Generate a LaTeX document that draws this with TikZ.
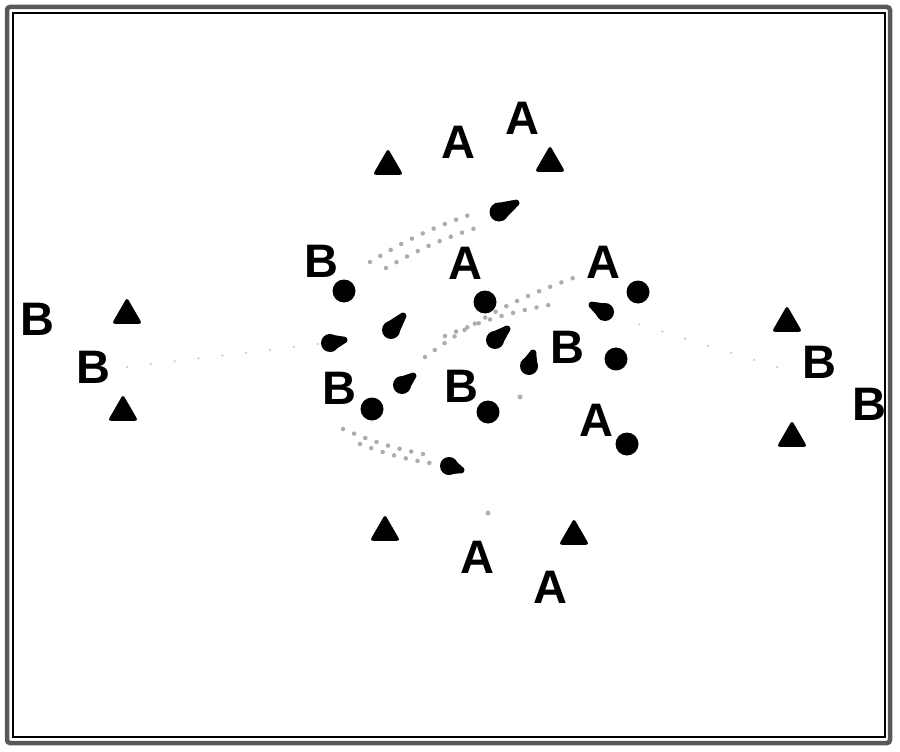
\documentclass[tikz,border=0pt]{standalone}
\usepackage{fontspec}
\setmainfont{Liberation Sans}
\usetikzlibrary{calc,shapes.geometric}
\newcommand\tdrop[3][9pt]{%
  \fill ($(#2)!#1!90:(#3)$) -- ($(#3)!3.5pt!-90:(#2)$) -- ($(#3)!3.5pt!90:(#2)$) -- ($(#2)!#1!-90:(#3)$) -- cycle;
  \fill (#2) circle (#1);
  \fill (#3) circle (3.5pt);}
\begin{document}
\begin{tikzpicture}[x=1pt,y=-1pt,
  lett/.style={font=\fontsize{47}{47}\selectfont\bfseries,inner sep=0pt},
  tri/.style={regular polygon,regular polygon sides=3,fill=black,minimum size=35pt,inner sep=0pt,rounded corners=3pt},
  dotc/.style={circle,fill=black,minimum size=23pt,inner sep=0pt},
  track/.style={gray!65,line width=4.5pt,line cap=round,dash pattern=on 0pt off 12pt},
  ftrack/.style={gray!40,line width=2.5pt,line cap=round,dash pattern=on 0pt off 24pt}]
\useasboundingbox (0,0) rectangle (900,752);
\fill[white] (0,0) rectangle (900,752);
% frame
\draw[gray!70!black,line width=4.5pt,rounded corners=3pt] (7,7) rectangle (890,743);
\draw[black,line width=1.3pt] (13,13) rectangle (885,737);
% letters A
\node[lett] (a1) at (458,142) {A};
\node[lett] (a2) at (522,118) {A};
\node[lett] (a3) at (465,263) {A};
\node[lett] (a4) at (603,262) {A};
\node[lett] (a5) at (596,420) {A};
\node[lett] (a6) at (477,557) {A};
\node[lett] (a7) at (550,587) {A};
% letters B
\node[lett] (b1) at (37,319) {B};
\node[lett] (b2) at (93,367) {B};
\node[lett] (b3) at (321,261) {B};
\node[lett] (b4) at (339,388) {B};
\node[lett] (b5) at (461,386) {B};
\node[lett] (b6) at (567,347) {B};
\node[lett] (b7) at (819,362) {B};
\node[lett] (b8) at (869,404) {B};
% triangles
\node[tri] (t1) at (388,166) {};
\node[tri] (t2) at (550,163) {};
\node[tri] (t3) at (127,315) {};
\node[tri] (t4) at (123,412) {};
\node[tri] (t5) at (787,323) {};
\node[tri] (t6) at (792,438) {};
\node[tri] (t7) at (385,532) {};
\node[tri] (t8) at (574,536) {};
% circles
\node[dotc] (c1) at (344,291) {};
\node[dotc] (c2) at (485,302) {};
\node[dotc] (c3) at (638,292) {};
\node[dotc] (c4) at (616,359) {};
\node[dotc] (c5) at (372,409) {};
\node[dotc] (c6) at (488,412) {};
\node[dotc] (c7) at (627,444) {};
% track end points
\coordinate (p1s) at (370,262); \coordinate (p1e) at (472,214);
\coordinate (q1s) at (386,268); \coordinate (q1e) at (482,226);
\coordinate (p2s) at (343,429); \coordinate (p2e) at (428,455);
\coordinate (q2s) at (360,444); \coordinate (q2e) at (436,464);
\coordinate (p3s) at (425,357); \coordinate (p3e) at (576,277);
\coordinate (q3s) at (445,336); \coordinate (q3e) at (560,303);
\coordinate (p4s) at (127,367); \coordinate (p4e) at (318,344);
\coordinate (p5s) at (777,367); \coordinate (p5e) at (625,320);
\draw[track] (p1s) to[bend left=6] (p1e);
\draw[track] (q1s) to[bend left=6] (q1e);
\draw[track] (p2s) to[bend right=6] (p2e);
\draw[track] (q2s) to[bend right=6] (q2e);
\draw[track] (p3s) to[bend left=8] (p3e);
\draw[track] (q3s) to[bend left=6] (q3e);
\draw[ftrack] (p4s) -- (p4e);
\draw[ftrack] (p5s) -- (p5e);
\fill[gray!60] (488,513) circle (2.5pt);
\fill[gray!60] (520,397) circle (2.5pt);
% arrowheads
\tdrop[9.5pt]{499,212}{516,203}
\tdrop{391,330}{403,316}
\tdrop{330,343}{344,340}
\tdrop{495,340}{507,329}
\tdrop{529,366}{533,353}
\tdrop{605,312}{592,305}
\tdrop{402,385}{413,376}
\tdrop{449,466}{461,470}
\end{tikzpicture}
\end{document}
